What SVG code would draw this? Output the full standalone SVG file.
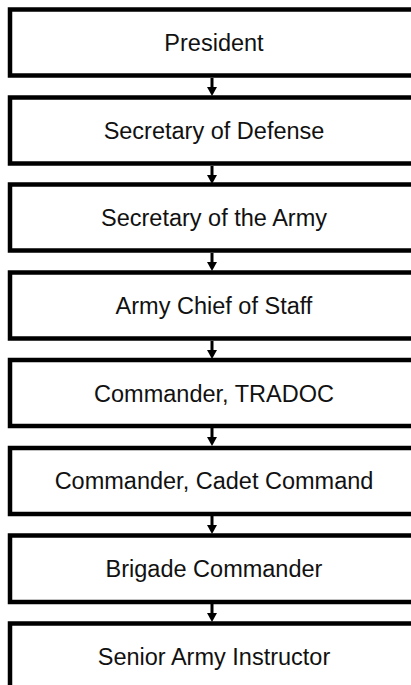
<svg xmlns="http://www.w3.org/2000/svg" width="411" height="685" viewBox="0 0 411 685">
<style>
.box{fill:#fff;stroke:#000;stroke-width:4.5}
.lbl{font-family:"Liberation Sans",Arial,sans-serif;font-size:23.5px;fill:#111;text-anchor:middle}
.shaft{stroke:#000;stroke-width:3;fill:none}
.head{fill:#000}
</style>
<rect x="0" y="0" width="411" height="685" fill="#fff"/>
<g id="connectors">
<line class="shaft" x1="212" y1="78" x2="212" y2="88"/><polygon class="head" points="207,87 217,87 212,96"/>
<line class="shaft" x1="212" y1="166" x2="212" y2="176"/><polygon class="head" points="207,175 217,175 212,184"/>
<line class="shaft" x1="212" y1="253" x2="212" y2="263"/><polygon class="head" points="207,262 217,262 212,271"/>
<line class="shaft" x1="212" y1="341" x2="212" y2="351"/><polygon class="head" points="207,350 217,350 212,359"/>
<line class="shaft" x1="212" y1="428" x2="212" y2="438"/><polygon class="head" points="207,437 217,437 212,446"/>
<line class="shaft" x1="212" y1="516" x2="212" y2="526"/><polygon class="head" points="207,525 217,525 212,534"/>
<line class="shaft" x1="212" y1="604" x2="212" y2="614"/><polygon class="head" points="207,613 217,613 212,622"/>
</g>
<g id="president"><rect class="box" x="10" y="9.5" width="410" height="66"/><text class="lbl" x="214" y="51">President</text></g>
<g id="secdef"><rect class="box" x="10" y="97.5" width="410" height="66"/><text class="lbl" x="214" y="139">Secretary of Defense</text></g>
<g id="secarmy"><rect class="box" x="10" y="184.5" width="410" height="66"/><text class="lbl" x="214" y="226">Secretary of the Army</text></g>
<g id="chief"><rect class="box" x="10" y="272.5" width="410" height="66"/><text class="lbl" x="214" y="314">Army Chief of Staff</text></g>
<g id="tradoc"><rect class="box" x="10" y="360" width="410" height="66"/><text class="lbl" x="214" y="401.5">Commander, TRADOC</text></g>
<g id="cadet"><rect class="box" x="10" y="448" width="410" height="66"/><text class="lbl" x="214" y="489">Commander, Cadet Command</text></g>
<g id="brigade"><rect class="box" x="10" y="535.5" width="410" height="66.5"/><text class="lbl" x="214" y="577">Brigade Commander</text></g>
<g id="sai"><rect class="box" x="10" y="623.5" width="410" height="66"/><text class="lbl" x="214" y="665">Senior Army Instructor</text></g>
</svg>
